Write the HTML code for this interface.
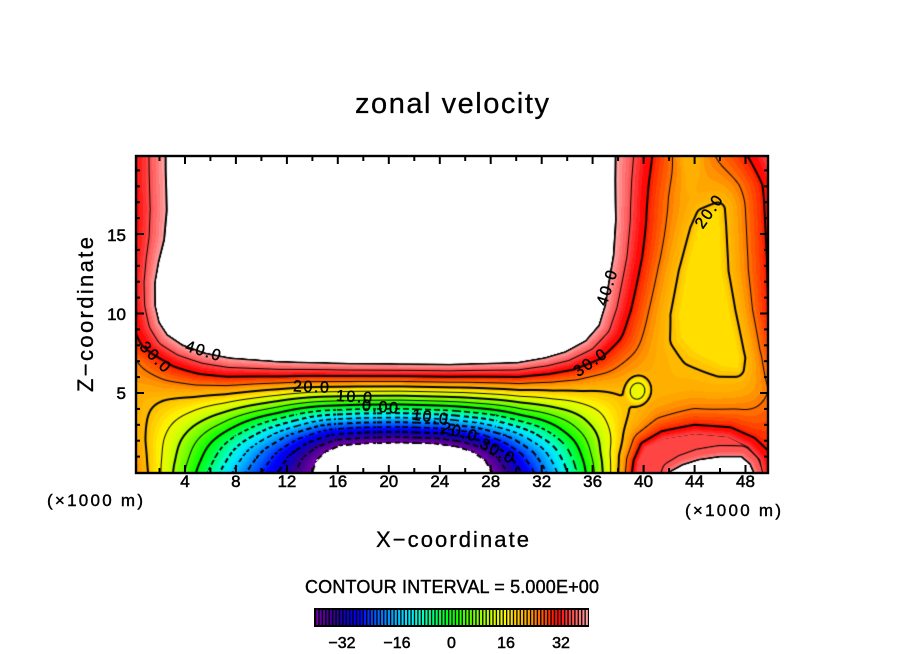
<!DOCTYPE html>
<html><head><meta charset="utf-8">
<style>
html,body{margin:0;padding:0;background:#fff;}
body{width:904px;height:654px;position:relative;overflow:hidden;font-family:"Liberation Sans",sans-serif;}
#c{position:absolute;left:136px;top:156px;}
#s{position:absolute;left:0;top:0;}
</style></head><body>
<canvas id="c" width="632" height="317"></canvas>
<svg id="s" width="904" height="654" font-family="Liberation Sans, sans-serif">
<g id="ticks" stroke="#000" stroke-width="2"></g>
<rect x="136" y="156" width="632" height="317" fill="none" stroke="#000" stroke-width="2.4"/>
<text x="355" y="113" font-size="29" textLength="194" lengthAdjust="spacing" stroke="#000" stroke-width="0.3">zonal velocity</text>
<text x="376" y="547" font-size="22" textLength="153" lengthAdjust="spacing" stroke="#000" stroke-width="0.3">X−coordinate</text>
<text transform="translate(93,392) rotate(-90)" x="0" y="0" font-size="22" textLength="155" lengthAdjust="spacing" stroke="#000" stroke-width="0.3">Z−coordinate</text>
<g font-size="17" text-anchor="end" stroke="#000" stroke-width="0.5">
<text x="126" y="241">15</text><text x="126" y="320">10</text><text x="126" y="399">5</text>
</g>
<g id="xl" font-size="17" text-anchor="middle" stroke="#000" stroke-width="0.5"></g>
<text x="47" y="506" font-size="17" textLength="96" lengthAdjust="spacing" stroke="#000" stroke-width="0.4">(×1000 m)</text>
<text x="685" y="516" font-size="17" textLength="96" lengthAdjust="spacing" stroke="#000" stroke-width="0.4">(×1000 m)</text>
<text x="305" y="593" font-size="18" textLength="294" lengthAdjust="spacing" stroke="#000" stroke-width="0.4">CONTOUR INTERVAL = 5.000E+00</text>
<rect x="314" y="608" width="275" height="19" fill="#000"/>
<g id="cb"></g>
<g font-size="16" text-anchor="middle" stroke="#000" stroke-width="0.5">
<text x="342" y="648">−32</text><text x="397" y="648">−16</text><text x="451.5" y="648">0</text><text x="506" y="648">16</text><text x="561" y="648">32</text>
</g>
<g id="lab" font-size="16" text-anchor="middle" stroke="#000" stroke-width="0.4"></g>
</svg>
<script>
(function(){
const cv=document.getElementById('c');const ctx=cv.getContext('2d');
const W=632,H=317,OX=136,OY=156;
function mkfx(cx,sl,sr){return function(x){return x<cx?cx+(x-cx)*sl:cx+(x-cx)*sr;};}
function prep(P,fx){return P.map(function(p){return [fx(p[0]),p[1]];});}
function pd(qx,qy,P){
  let inside=false,md=1e18;const n=P.length;
  for(let i=0,j=n-1;i<n;j=i++){
    const xi=P[i][0],yi=P[i][1],xj=P[j][0],yj=P[j][1];
    if(((yi>qy)!=(yj>qy))&&(qx<(xj-xi)*(qy-yi)/(yj-yi)+xi))inside=!inside;
    const dx=xi-xj,dy=yi-yj;let t=((qx-xj)*dx+(qy-yj)*dy)/(dx*dx+dy*dy);t=t<0?0:t>1?1:t;
    const ex=xj+t*dx-qx,ey=yj+t*dy-qy;const d=ex*ex+ey*ey;if(d<md)md=d;
  }
  return inside?0:Math.sqrt(md);
}
const id=function(x){return x;};
const T=[[168,130],[168,170],[169,210],[166,240],[160,262],[156,283],[156,305],[160,322],[168,334],[183,344],[205,352],[230,357],[280,361],[350,363],[450,364],[517,362],[545,357],[565,351],[585,340],[598,325],[604,305],[607,285],[612,255],[614,220],[613,180],[613,130]];
const B=[[314,480],[317,472],[320,461],[328,453],[341,447],[365,445],[400,444],[435,445],[456,448],[471,453],[482,461],[488,472],[491,480]];
const Y=[[718,210],[704,216],[698,230],[687,272],[680,315],[682,337],[695,351],[722,365],[737,368],[739,358],[729,313],[721,272],[719,225]];
const BR=[[636,480],[639,462],[646,448],[664,439],[695,434],[728,437],[748,447],[760,460],[764,480]];
const WS=[[669,480],[672,472],[683,466],[699,461],[720,458],[741,458],[749,465],[752,472],[754,480]];
const TG=[[680,140],[700,140],[697,175],[690,190]];
const fB=mkfx(403,0.55,0.45);
const S=[
 {p:T,fx:id,v:41,a:1},
 {p:prep(B,fB),fx:fB,v:-42,a:1},
 {p:Y,fx:id,v:17.5,a:1},
 {p:BR,fx:id,v:35.5,a:1},
 {p:TG,fx:id,v:21,a:0.5}
];
const Lv=[[140,30],[300,30],[330,29],[345,28],[362,24],[400,22],[440,24],[480,27]];
const Rv=[[140,38],[185,33],[260,32],[310,32],[350,30],[390,26],[425,28],[472,31],[480,31]];
function interp(tab,y){if(y<=tab[0][0])return tab[0][1];for(let i=1;i<tab.length;i++){if(y<=tab[i][0]){const t=(y-tab[i-1][0])/(tab[i][0]-tab[i-1][0]);return tab[i-1][1]+t*(tab[i][1]-tab[i-1][1]);}}return tab[tab.length-1][1];}
function wf(d){return 1/((d+1)*(1+(d/120)*(d/120)));}
function field(px,py){
  let num=0,den=0;
  for(let k=0;k<S.length;k++){const s=S[k];const d=pd(s.fx(px),py,s.p);const w=s.a*wf(d);num+=w*s.v;den+=w;}
  let d=Math.abs(px-131),w=wf(d);num+=w*interp(Lv,py);den+=w;
  d=Math.abs(773-px);w=wf(d);num+=w*interp(Rv,py);den+=w;
  let u=num/den;
  if(px>630&&py>410){const dw=pd(px,py,WS);u+=8*Math.exp(-dw/3);}
  const lx=(px-638)/12,ly=(py-390)/14;const r2=lx*lx+ly*ly;u-=7*Math.exp(-r2*r2);
  return u;
}
const ST=[[-40,120,0,175],[-37,80,0,150],[-34,45,0,150],[-31,10,0,200],[-27,0,0,255],[-23,0,80,255],[-19,0,140,255],[-16,0,190,255],[-13,0,230,255],[-9,0,255,200],[-6,0,255,130],[-3,0,255,60],[0,0,255,0],[4,70,255,0],[8,140,255,0],[12,210,255,0],[16,255,245,0],[19,255,200,0],[22.5,255,165,0],[27,255,80,0],[31,255,0,0],[34,255,60,60],[37,255,110,110],[40,255,170,170]];
function cmap(v){
  if(v<=ST[0][0])return [ST[0][1],ST[0][2],ST[0][3]];
  for(let i=1;i<ST.length;i++){if(v<=ST[i][0]){const a=ST[i-1],b=ST[i];const t=(v-a[0])/(b[0]-a[0]);return [a[1]+t*(b[1]-a[1]),a[2]+t*(b[2]-a[2]),a[3]+t*(b[3]-a[3])];}}
  const l=ST[ST.length-1];return [l[1],l[2],l[3]];
}
function fillColor(u){if(u>=40||u<-40)return [255,255,255];return cmap(Math.floor(u)+0.5);}
const GW=W+2,GH=H+2;const U=new Float32Array(GW*GH);
for(let j=0;j<GH;j++){const py=OY+j-1+0.5;for(let i=0;i<GW;i++){const px=OX+i-1+0.5;U[j*GW+i]=field(px,py);}}
const img=ctx.createImageData(W,H);const D=img.data;
for(let j=0;j<H;j++){for(let i=0;i<W;i++){
  const k=(j+1)*GW+(i+1);const u=U[k];const c=fillColor(u);
  const gx=(U[k+1]-U[k-1])/2,gy=(U[k+GW]-U[k-GW])/2;const g=Math.hypot(gx,gy);
  let a=0;const L=Math.round(u/5)*5;
  if(L>=-40&&L<=40&&g>1e-4){
    const dist=Math.abs(u-L)/g;const bold=(L%10===0);
    const hw=bold?1.0:(L<0?0.8:0.5);
    a=Math.min(1,Math.max(0,hw+0.5-dist));
    if(a>0&&L<0){const x0=Math.floor(i/40)*40,y0=Math.floor(j/40)*40;const tx=-gy/g,ty=gx/g;let s=(i-x0)*tx+(j-y0)*ty;s=((s%9)+9)%9;if(s>5.5)a=0;}
  }
  const o=(j*W+i)*4;D[o]=c[0]*(1-a);D[o+1]=c[1]*(1-a);D[o+2]=c[2]*(1-a);D[o+3]=255;
}}
ctx.putImageData(img,0,0);
const tg=document.getElementById('ticks');let h='';
for(let X=2;X<=48;X+=2){const x=(134+12.74*X).toFixed(1);const l=(X%4===0)?8:5;h+='<line x1="'+x+'" y1="473" x2="'+x+'" y2="'+(473-l)+'"/><line x1="'+x+'" y1="156" x2="'+x+'" y2="'+(156+l)+'"/>';}
for(let Z=1;Z<=19;Z++){const y=(472.5-15.9*Z).toFixed(1);const l=(Z%5===0)?8:4;h+='<line x1="136" y1="'+y+'" x2="'+(136+l)+'" y2="'+y+'"/><line x1="768" y1="'+y+'" x2="'+(768-l)+'" y2="'+y+'"/>';}
tg.innerHTML=h;
let xl='';for(let X=4;X<=48;X+=4){xl+='<text x="'+(134+12.74*X).toFixed(1)+'" y="487">'+X+'</text>';}
document.getElementById('xl').innerHTML=xl;
let cb='';const cw=273/80;
for(let i=0;i<80;i++){const c=cmap(-40+i+0.5);cb+='<rect x="'+(315+i*cw+1.2).toFixed(2)+'" y="610" width="2.1" height="15" fill="rgb('+Math.round(c[0])+','+Math.round(c[1])+','+Math.round(c[2])+')"/>';}
document.getElementById('cb').innerHTML=cb;
const LB=[["40.0",203,351,17],["30.0",155,357,45],["20.0",311,387,2],["10.0",354,397,4],["0.00",380,407,5],["10.0",430,417,8],["20.0",459,432,15],["30.0",497,451,28],["40.0",607,288,-72],["30.0",590,363,-35],["20.0",709,212,-55]];
let lb='';for(const q of LB){lb+='<text transform="translate('+q[1]+','+q[2]+') rotate('+q[3]+')" x="0" y="5" textLength="36" lengthAdjust="spacing">'+q[0]+'</text>';}
document.getElementById('lab').innerHTML=lb;
})();
</script>
</body></html>
